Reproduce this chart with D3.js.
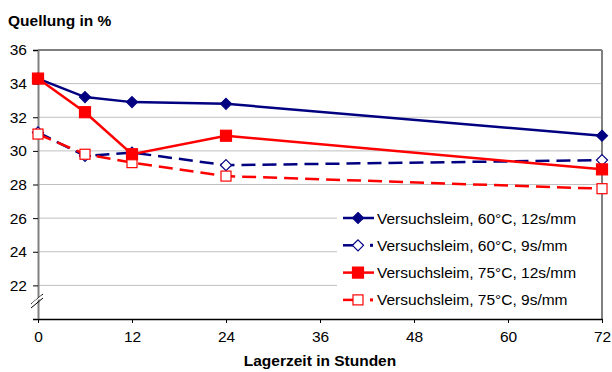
<!DOCTYPE html>
<html><head><meta charset="utf-8">
<script src="https://cdn.jsdelivr.net/npm/d3@7"></script>
<style>body{margin:0;background:#fff}svg{display:block}text{font-family:"Liberation Sans",Arial,sans-serif}</style>
</head><body><svg id="c" width="612" height="372"></svg>
<script>
const hours = [0, 6, 12, 24, 72];
const s60_12 = [34.3, 33.2, 32.9, 32.8, 30.9];
const s60_9  = [31.1, 29.7, 29.9, 29.15, 29.45];
const s75_12 = [34.3, 32.3, 29.8, 30.9, 28.9];
const s75_9  = [31.0, 29.8, 29.3, 28.5, 27.75];
const seriesNames = ["Versuchsleim, 60°C, 12s/mm","Versuchsleim, 60°C, 9s/mm","Versuchsleim, 75°C, 12s/mm","Versuchsleim, 75°C, 9s/mm"];
const xTicks = [0, 12, 24, 36, 48, 60, 72];
const yTicks = [22, 24, 26, 28, 30, 32, 34, 36];

const series = [
  {name: seriesNames[0], values: s60_12, color: "#000080", dash: null, marker: "diamond", fill: true},
  {name: seriesNames[1], values: s60_9,  color: "#000080", dash: "14,7", marker: "diamond", fill: false},
  {name: seriesNames[2], values: s75_12, color: "#ff0000", dash: null, marker: "square", fill: true},
  {name: seriesNames[3], values: s75_9,  color: "#ff0000", dash: "14,7", marker: "square", fill: false}
];

const FS = 15.5;
const svg = d3.select("#c");
const L = 38, R = 602, T = 50, B = 319;
const x = d3.scaleLinear().domain([0, 72]).range([L, R]);
const y = d3.scaleLinear().domain([20, 36]).range([B, T]);

// gridlines
svg.append("g").selectAll("line").data(yTicks.filter(d => d < 36)).join("line")
  .attr("x1", L).attr("x2", R).attr("y1", d => y(d)).attr("y2", d => y(d))
  .attr("stroke", "#c0c0c0").attr("stroke-width", 1);
// top border
svg.append("line").attr("x1", L).attr("x2", R).attr("y1", y(36)).attr("y2", y(36)).attr("stroke", "#000").attr("stroke-width", 1);
// right border
svg.append("line").attr("x1", R).attr("x2", R).attr("y1", T).attr("y2", B).attr("stroke", "#808080").attr("stroke-width", 2);

// y axis
const yAxis = svg.append("g").attr("transform", `translate(${L},0)`)
  .call(d3.axisLeft(y).tickValues(yTicks.concat([20])).tickSize(5).tickFormat(d => d === 20 ? "" : d));
yAxis.select(".domain").attr("stroke", "#808080").attr("stroke-width", 2);
yAxis.selectAll(".tick line").attr("stroke", "#000");
yAxis.selectAll("text").attr("font-size", FS).attr("fill", "#000").attr("x", -11).attr("font-family", "Liberation Sans, Arial, sans-serif");

// x axis
const xAxis = svg.append("g").attr("transform", `translate(0,${B})`)
  .call(d3.axisBottom(x).tickValues(xTicks).tickSize(4).tickSizeOuter(0));
xAxis.select(".domain").attr("stroke", "#000").attr("stroke-width", 1.5);
xAxis.selectAll(".tick line").attr("stroke", "#000");
xAxis.selectAll("text").attr("font-size", FS).attr("fill", "#000").attr("y", 12).attr("font-family", "Liberation Sans, Arial, sans-serif");

// axis break marks
const yb = 301;
[-2, 2].forEach(o => {
  svg.append("line").attr("x1", L - 7).attr("y1", yb + 5 + o).attr("x2", L + 5).attr("y2", yb - 5 + o)
    .attr("stroke", "#000").attr("stroke-width", 1);
});
svg.append("line").attr("x1", L - 6).attr("y1", yb + 3).attr("x2", L + 4).attr("y2", yb - 5)
  .attr("stroke", "#fff").attr("stroke-width", 1.5);

const line = d3.line().x((d, i) => x(hours[i])).y(d => y(d));

function marker(g, s, cx, cy) {
  if (s.marker === "diamond") {
    const r = 5.5;
    g.append("path").attr("d", `M${cx},${cy - r}L${cx + r},${cy}L${cx},${cy + r}L${cx - r},${cy}Z`)
      .attr("fill", s.fill ? s.color : "#fff").attr("stroke", s.color).attr("stroke-width", 1.2);
  } else {
    const r = s.fill ? 5.5 : 5;
    g.append("rect").attr("x", cx - r).attr("y", cy - r).attr("width", 2 * r).attr("height", 2 * r)
      .attr("fill", s.fill ? s.color : "#fff").attr("stroke", s.color).attr("stroke-width", 1.2);
  }
}

const order = [1, 3, 0, 2];
order.forEach(k => {
  const s = series[k];
  const g = svg.append("g");
  g.append("path").datum(s.values).attr("d", line).attr("fill", "none")
    .attr("stroke", s.color).attr("stroke-width", 2.5).attr("stroke-dasharray", s.dash);
  s.values.forEach((v, i) => marker(g, s, x(hours[i]), y(v)));
});

// legend
const lg = svg.append("g");
lg.append("rect").attr("x", 337).attr("y", 204).attr("width", R - 1 - 337).attr("height", B - 1 - 204).attr("fill", "#fff");
series.forEach((s, i) => {
  const ly = 218 + i * 27.3;
  const g = lg.append("g");
  if (s.dash) {
    g.append("line").attr("x1", 343).attr("x2", 358).attr("y1", ly).attr("y2", ly).attr("stroke", s.color).attr("stroke-width", 2.5);
    g.append("rect").attr("x", 370).attr("y", ly - 1.5).attr("width", 3).attr("height", 3).attr("fill", s.color);
    marker(g, s, 358, ly);
  } else {
    g.append("line").attr("x1", 343).attr("x2", 374).attr("y1", ly).attr("y2", ly).attr("stroke", s.color).attr("stroke-width", 2.5);
    marker(g, s, 358, ly);
  }
  g.append("text").attr("x", 377).attr("y", ly + 5.5).attr("font-size", FS).attr("fill", "#000").text(s.name);
});

// titles
svg.append("text").attr("x", 8).attr("y", 26).attr("font-size", FS).attr("font-weight", "bold").text("Quellung in %");
svg.append("text").attr("x", (L + R) / 2).attr("y", 366).attr("text-anchor", "middle").attr("font-size", FS).attr("font-weight", "bold").text("Lagerzeit in Stunden");
</script></body></html>
